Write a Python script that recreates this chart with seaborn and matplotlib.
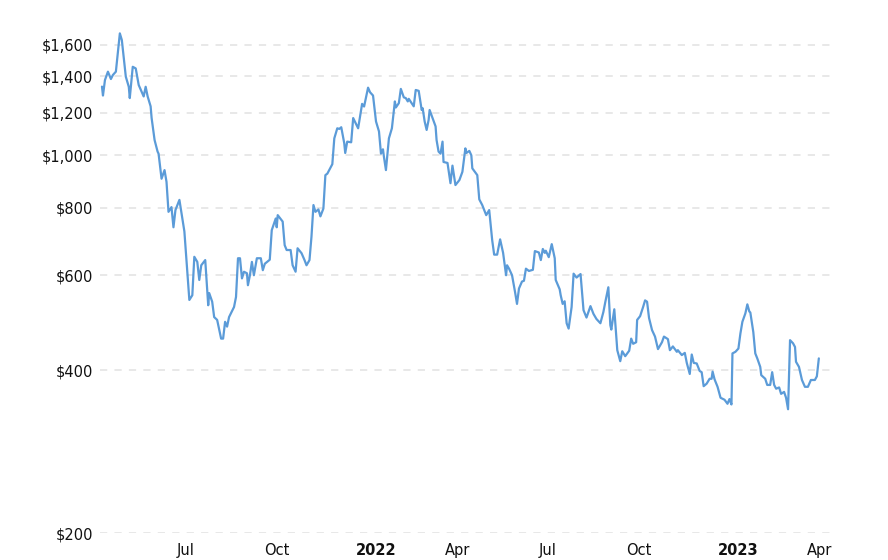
import matplotlib
matplotlib.use("Agg")
import matplotlib.pyplot as plt
import matplotlib.dates as mdates
import matplotlib.ticker as mticker
import matplotlib.transforms as mtransforms
import seaborn as sns
import pandas as pd

# price history (log scale), split by year
dates_2021 = [
    "2021-04-08", "2021-04-09", "2021-04-11", "2021-04-14", "2021-04-17", "2021-04-19",
    "2021-04-22", "2021-04-26", "2021-04-28", "2021-05-02", "2021-05-05", "2021-05-06",
    "2021-05-09", "2021-05-12", "2021-05-15", "2021-05-20", "2021-05-22", "2021-05-24",
    "2021-05-27", "2021-05-28", "2021-05-31", "2021-06-03", "2021-06-04", "2021-06-07",
    "2021-06-10", "2021-06-12", "2021-06-14", "2021-06-17", "2021-06-19", "2021-06-21",
    "2021-06-25", "2021-06-28", "2021-06-30", "2021-07-05", "2021-07-08", "2021-07-10",
    "2021-07-13", "2021-07-15", "2021-07-17", "2021-07-21", "2021-07-24", "2021-07-25",
    "2021-07-28", "2021-07-30", "2021-08-02", "2021-08-06", "2021-08-08", "2021-08-10",
    "2021-08-12", "2021-08-14", "2021-08-19", "2021-08-21", "2021-08-23", "2021-08-25",
    "2021-08-27", "2021-08-29", "2021-09-01", "2021-09-02", "2021-09-04", "2021-09-06",
    "2021-09-08", "2021-09-11", "2021-09-15", "2021-09-17", "2021-09-19", "2021-09-24",
    "2021-09-26", "2021-09-30", "2021-10-01", "2021-10-02", "2021-10-07", "2021-10-09",
    "2021-10-11", "2021-10-15", "2021-10-17", "2021-10-20", "2021-10-22", "2021-10-26",
    "2021-10-29", "2021-10-31", "2021-11-03", "2021-11-05", "2021-11-07", "2021-11-09",
    "2021-11-12", "2021-11-14", "2021-11-17", "2021-11-19", "2021-11-21", "2021-11-26",
    "2021-11-28", "2021-12-01", "2021-12-03", "2021-12-05", "2021-12-08", "2021-12-09",
    "2021-12-11", "2021-12-15", "2021-12-17", "2021-12-22", "2021-12-26", "2021-12-28",
]
prices_2021 = [
    1340, 1290, 1378, 1428, 1384, 1408,
    1428, 1681, 1634, 1398, 1339, 1276,
    1458, 1448, 1349, 1285, 1339, 1285,
    1232, 1172, 1067, 1016, 1007, 905,
    939, 893, 786, 802, 736, 792,
    827, 764, 723, 540, 551, 649,
    635, 588, 626, 640, 528, 556,
    536, 502, 496, 458, 458, 492,
    482, 502, 524, 547, 645, 645,
    592, 609, 605, 575, 600, 635,
    600, 645, 645, 613, 630, 641,
    727, 764, 736, 775, 754, 682,
    668, 668, 626, 609, 673, 659,
    640, 626, 640, 707, 809, 786,
    794, 771, 797, 919, 925, 963,
    1075, 1122, 1119, 1127, 1053, 1010,
    1060, 1057, 1172, 1122, 1245, 1231,
]

dates_2022 = [
    "2022-01-01", "2022-01-03", "2022-01-06", "2022-01-09", "2022-01-12", "2022-01-14",
    "2022-01-16", "2022-01-17", "2022-01-19", "2022-01-22", "2022-01-25", "2022-01-28",
    "2022-01-29", "2022-02-01", "2022-02-03", "2022-02-06", "2022-02-08", "2022-02-10",
    "2022-02-11", "2022-02-16", "2022-02-18", "2022-02-21", "2022-02-24", "2022-02-25",
    "2022-02-27", "2022-03-01", "2022-03-03", "2022-03-04", "2022-03-10", "2022-03-11",
    "2022-03-13", "2022-03-15", "2022-03-17", "2022-03-18", "2022-03-22", "2022-03-25",
    "2022-03-27", "2022-03-30", "2022-04-03", "2022-04-06", "2022-04-09", "2022-04-10",
    "2022-04-13", "2022-04-15", "2022-04-16", "2022-04-21", "2022-04-23", "2022-04-26",
    "2022-04-30", "2022-05-03", "2022-05-06", "2022-05-08", "2022-05-11", "2022-05-14",
    "2022-05-17", "2022-05-20", "2022-05-21", "2022-05-23", "2022-05-26", "2022-05-29",
    "2022-05-31", "2022-06-02", "2022-06-05", "2022-06-07", "2022-06-09", "2022-06-12",
    "2022-06-16", "2022-06-18", "2022-06-22", "2022-06-24", "2022-06-26", "2022-06-28",
    "2022-06-29", "2022-07-02", "2022-07-03", "2022-07-05", "2022-07-08", "2022-07-09",
    "2022-07-13", "2022-07-14", "2022-07-16", "2022-07-18", "2022-07-20", "2022-07-22",
    "2022-07-25", "2022-07-27", "2022-07-30", "2022-08-03", "2022-08-06", "2022-08-09",
    "2022-08-13", "2022-08-16", "2022-08-19", "2022-08-23", "2022-08-26", "2022-08-28",
    "2022-08-31", "2022-09-02", "2022-09-03", "2022-09-06", "2022-09-09", "2022-09-12",
    "2022-09-14", "2022-09-17", "2022-09-21", "2022-09-23", "2022-09-25", "2022-09-28",
    "2022-09-29", "2022-10-02", "2022-10-05", "2022-10-07", "2022-10-09", "2022-10-11",
    "2022-10-14", "2022-10-17", "2022-10-20", "2022-10-24", "2022-10-26", "2022-10-30",
    "2022-11-01", "2022-11-04", "2022-11-08", "2022-11-09", "2022-11-13", "2022-11-16",
    "2022-11-18", "2022-11-21", "2022-11-23", "2022-11-25", "2022-11-28", "2022-12-01",
    "2022-12-03", "2022-12-05", "2022-12-08", "2022-12-11", "2022-12-13", "2022-12-14",
    "2022-12-16", "2022-12-19", "2022-12-22", "2022-12-26", "2022-12-29", "2022-12-31",
]
prices_2022 = [
    1334, 1308, 1290, 1155, 1107, 1007,
    1026, 993, 939, 1075, 1122, 1258,
    1226, 1249, 1327, 1280, 1276, 1258,
    1272, 1232, 1321, 1316, 1213, 1222,
    1155, 1114, 1163, 1213, 1131, 1067,
    1016, 1007, 1060, 972, 968, 888,
    957, 881, 900, 932, 1030, 1010,
    1019, 1000, 946, 919, 829, 809,
    775, 792, 697, 655, 655, 699,
    660, 600, 626, 617, 600, 559,
    531, 567, 584, 586, 617, 611,
    614, 665, 661, 640, 671, 660,
    666, 648, 660, 685, 645, 588,
    565, 551, 531, 537, 489, 478,
    524, 604, 594, 603, 517, 501,
    526, 509, 498, 489, 513, 536,
    570, 485, 476, 519, 436, 416,
    434, 425, 435, 458, 448, 451,
    496, 504, 524, 539, 536, 500,
    475, 462, 438, 451, 462, 457,
    436, 443, 433, 436, 427, 431,
    413, 394, 428, 413, 412, 399,
    397, 374, 378, 386, 386, 398,
    385, 373, 356, 353, 347, 354,
]

dates_2023 = [
    "2023-01-02", "2023-01-03", "2023-01-06", "2023-01-09", "2023-01-11", "2023-01-13",
    "2023-01-16", "2023-01-18", "2023-01-20", "2023-01-21", "2023-01-24", "2023-01-26",
    "2023-01-28", "2023-01-31", "2023-02-01", "2023-02-05", "2023-02-07", "2023-02-10",
    "2023-02-12", "2023-02-14", "2023-02-16", "2023-02-19", "2023-02-21", "2023-02-24",
    "2023-02-26", "2023-02-28", "2023-03-02", "2023-03-05", "2023-03-07", "2023-03-08",
    "2023-03-11", "2023-03-14", "2023-03-17", "2023-03-20", "2023-03-23", "2023-03-27",
    "2023-03-29", "2023-03-31",
]
prices_2023 = [
    346, 430, 433, 439, 468, 492,
    510, 530, 514, 512, 471, 430,
    421, 406, 392, 386, 376, 376,
    397, 376, 370, 372, 362, 365,
    356, 339, 455, 449, 442, 415,
    406, 384, 373, 373, 384, 384,
    390, 421,
]

price_ticks = [200, 400, 600, 800, 1000, 1200, 1400, 1600]

df = pd.DataFrame({
    "date": pd.to_datetime(dates_2021 + dates_2022 + dates_2023),
    "price": prices_2021 + prices_2022 + prices_2023,
})

sns.set_theme(style="white")
plt.rcParams["font.family"] = ["DejaVu Sans"]

fig = plt.figure(figsize=(8.88, 5.6), dpi=100)
ax = fig.add_axes([0.1126, 0.048, 0.8274, 0.902])

sns.lineplot(data=df, x="date", y="price", ax=ax, color="#5b9bd8", linewidth=1.6)

# log-scaled price axis
ax.set_yscale("log")
ax.set_ylim(200, 1720)
ax.yaxis.set_major_locator(mticker.FixedLocator(price_ticks))
ax.yaxis.set_minor_locator(mticker.NullLocator())
ax.yaxis.set_major_formatter(mticker.FuncFormatter(lambda v, p: f"${v:,.0f}"))

ax.set_xlim(pd.Timestamp("2021-04-06"), pd.Timestamp("2023-04-16"))
ax.xaxis.set_major_locator(mdates.MonthLocator(bymonth=[1, 4, 7, 10]))


def month_label(v, pos):
    d = mdates.num2date(v)
    return str(d.year) if d.month == 1 else d.strftime("%b")


ax.xaxis.set_major_formatter(mticker.FuncFormatter(month_label))

ax.grid(axis="y", color="#e6e6e6", linestyle=(0, (4, 4)), linewidth=1.3)
ax.grid(axis="x", visible=False)
for s in ax.spines.values():
    s.set_visible(False)

ax.tick_params(axis="both", length=0, labelsize=10.5, labelcolor="#111111")
ax.tick_params(axis="x", pad=7)
ax.tick_params(axis="y", pad=5)
ax.set_xlabel("")
ax.set_ylabel("")

fig.canvas.draw()
shift = mtransforms.ScaledTranslation(8 / 100, 0, fig.dpi_scale_trans)
for lbl in ax.get_xticklabels():
    if lbl.get_text().isdigit():
        lbl.set_fontweight("bold")
        lbl.set_transform(lbl.get_transform() + shift)

fig.savefig("out.png", dpi=100)
